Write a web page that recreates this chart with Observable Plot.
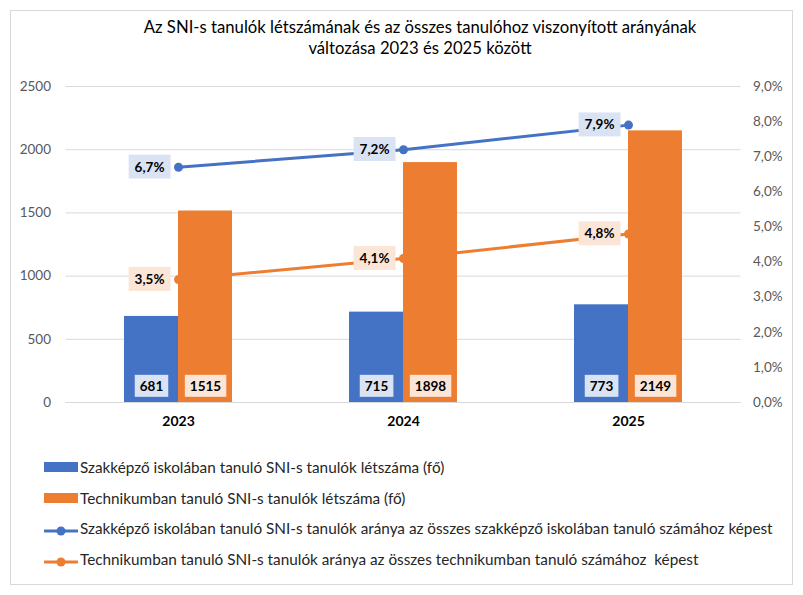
<!DOCTYPE html>
<html>
<head>
<meta charset="utf-8">
<script src="https://cdn.jsdelivr.net/npm/d3@7"></script>
<script src="https://cdn.jsdelivr.net/npm/@observablehq/plot@0.6"></script>
<style>
  html, body { margin: 0; padding: 0; background: #fff; }
  body { width: 803px; height: 595px; position: relative; overflow: hidden; font-family: Lato, "Open Sans", sans-serif; }
  #frame { position: absolute; left: 10px; top: 10px; width: 783px; height: 575px; border: 1px solid #d9d9d9; box-sizing: border-box; }
  #title { position: absolute; left: 0; top: 17px; width: 840px; text-align: center; font-size: 16.7px; line-height: 21px; color: #000; }
  #chart { position: absolute; left: 0; top: 60px; }
  #legend { position: absolute; left: 44px; top: 452px; font-size: 15.3px; color: #262626; }
  .row { height: 30.5px; display: flex; align-items: center; white-space: nowrap; }
  .sw { width: 34px; margin-right: 2px; height: 12px; position: relative; flex: none; }
</style>
</head>
<body>
<div id="frame"></div>
<div id="title">Az SNI-s tanulók létszámának és az összes tanulóhoz viszonyított arányának<br>változása 2023 és 2025 között</div>
<div id="chart"></div>
<div id="legend"></div>
<script>
// Years and the four series shown
const years = ["2023", "2024", "2025"];
const szakCount = [681, 715, 773];      // Szakképző iskolában tanuló SNI-s tanulók (fő)
const techCount = [1515, 1898, 2149];   // Technikumban tanuló SNI-s tanulók (fő)
const szakPct = [6.7, 7.2, 7.9];        // arány, %
const techPct = [3.5, 4.1, 4.8];        // arány, %

const leftTicks = [0, 500, 1000, 1500, 2000, 2500];
const rightTicks = [0, 1, 2, 3, 4, 5, 6, 7, 8, 9];

const seriesNames = [
  "Szakképző iskolában tanuló SNI-s tanulók létszáma (fő)",
  "Technikumban tanuló SNI-s tanulók létszáma (fő)",
  "Szakképző iskolában tanuló SNI-s tanulók aránya az összes szakképző iskolában tanuló számához képest",
  "Technikumban tanuló SNI-s tanulók aránya az összes technikumban tanuló számához\u00a0 képest"
];
const blue = "#4472c4", orange = "#ed7d31";
const blueLight = "#dae3f3", orangeLight = "#fbe5d6";

// The percentage series share the count axis: 0–9 % maps onto 0–2500
const yMax = 2500, pctMax = 9;
const toY = p => p / pctMax * yMax;
const fromY = v => v / yMax * pctMax;
const fmtPct = p => p.toFixed(1).replace(".", ",") + "%";

const szakRows = years.map((year, i) => ({year, value: szakCount[i]}));
const techRows = years.map((year, i) => ({year, value: techCount[i]}));
const szakPctRows = years.map((year, i) => ({year, pct: szakPct[i]}));
const techPctRows = years.map((year, i) => ({year, pct: techPct[i]}));

const halfBar = 54;
const labelFont = {fontWeight: "bold", fontSize: 13.5, fill: "#000"};

const chart = Plot.plot({
  width: 803,
  height: 380,
  marginTop: 26,
  marginBottom: 38,
  marginLeft: 65.5,
  marginRight: 62.5,
  style: {fontFamily: "Lato, 'Open Sans', sans-serif", fontSize: "13.5px", color: "#595959", background: "transparent"},
  x: {type: "band", domain: years, paddingInner: 0.52, paddingOuter: 0.26},
  y: {domain: [0, yMax]},
  marks: [
    Plot.gridY(leftTicks, {stroke: "#d9d9d9", strokeOpacity: 1, strokeWidth: 1}),
    Plot.axisY(leftTicks, {anchor: "left", tickSize: 0, tickPadding: 15, label: null, tickFormat: d => String(d)}),
    Plot.axisY(rightTicks.map(toY), {anchor: "right", tickSize: 0, tickPadding: 12, label: null, tickFormat: v => fmtPct(fromY(v))}),
    Plot.axisX({tickSize: 0, tickPadding: 14, label: null, fontWeight: "bold", fontSize: 14, fill: "#000"}),
    Plot.barY(szakRows, {x: "year", y: "value", fill: blue, insetRight: halfBar}),
    Plot.barY(techRows, {x: "year", y: "value", fill: orange, insetLeft: halfBar}),
    Plot.ruleY([0], {stroke: "#d9d9d9", strokeWidth: 1}),
    Plot.text(szakRows, {x: "year", y: 0, text: d => String(d.value), dx: -halfBar / 2, dy: -16, ...labelFont}),
    Plot.text(techRows, {x: "year", y: 0, text: d => String(d.value), dx: halfBar / 2, dy: -16, ...labelFont}),
    Plot.line(szakPctRows, {x: "year", y: d => toY(d.pct), stroke: blue, strokeWidth: 3}),
    Plot.dot(szakPctRows, {x: "year", y: d => toY(d.pct), r: 4.5, fill: blue}),
    Plot.line(techPctRows, {x: "year", y: d => toY(d.pct), stroke: orange, strokeWidth: 3}),
    Plot.dot(techPctRows, {x: "year", y: d => toY(d.pct), r: 4.5, fill: orange}),
    Plot.text(szakPctRows, {x: "year", y: d => toY(d.pct), text: d => fmtPct(d.pct), textAnchor: "end", dx: -14, ...labelFont}),
    Plot.text(techPctRows, {x: "year", y: d => toY(d.pct), text: d => fmtPct(d.pct), textAnchor: "end", dx: -14, ...labelFont})
  ]
});
document.getElementById("chart").appendChild(chart);

// Light label boxes behind the value labels (the four text marks, in order)
const boxColors = [blueLight, orangeLight, blueLight, orangeLight];
const boxPad = [[5, 3], [5, 3], [6, 4], [6, 4]];
chart.querySelectorAll('g[aria-label="text"]').forEach((g, k) => {
  const [px, py] = boxPad[k];
  g.querySelectorAll("text").forEach(t => {
    const b = t.getBBox();
    const r = document.createElementNS("http://www.w3.org/2000/svg", "rect");
    r.setAttribute("x", b.x - px);
    r.setAttribute("y", b.y - py);
    r.setAttribute("width", b.width + 2 * px);
    r.setAttribute("height", b.height + 2 * py);
    r.setAttribute("fill", boxColors[k]);
    if (t.getAttribute("transform")) r.setAttribute("transform", t.getAttribute("transform"));
    t.parentNode.insertBefore(r, t);
  });
});

// Legend
const legend = document.getElementById("legend");
seriesNames.forEach((name, i) => {
  const color = i % 2 === 0 ? blue : orange;
  const row = document.createElement("div");
  row.className = "row";
  const sw = document.createElement("div");
  sw.className = "sw";
  if (i < 2) {
    sw.innerHTML = `<div style="position:absolute;left:0;top:1px;width:34px;height:10px;background:${color}"></div>`;
  } else {
    sw.innerHTML = `<svg width="34" height="12"><line x1="1" x2="33" y1="6" y2="6" stroke="${color}" stroke-width="3" stroke-linecap="round"/><circle cx="17" cy="6" r="4.5" fill="${color}"/></svg>`;
  }
  const tx = document.createElement("span");
  tx.textContent = name;
  row.appendChild(sw);
  row.appendChild(tx);
  legend.appendChild(row);
});
</script>
</body>
</html>
